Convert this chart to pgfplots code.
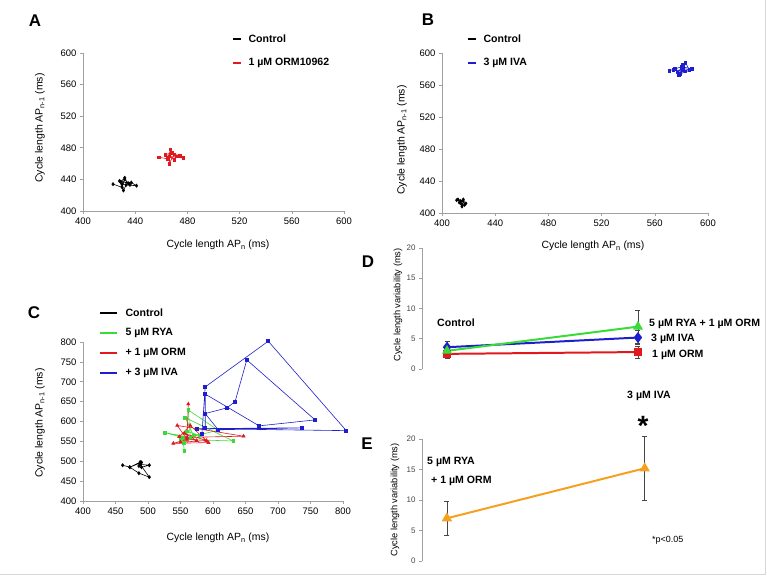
\documentclass[border=0pt]{standalone}
\usepackage{fontspec}
\setmainfont{Liberation Sans}
\usepackage{pgfplots}
\pgfplotsset{compat=1.18}

\definecolor{cred}{RGB}{225,25,30}
\definecolor{cblue}{RGB}{30,30,205}
\definecolor{cgreen}{RGB}{55,220,55}
\definecolor{corange}{RGB}{245,160,30}
\definecolor{axgrey}{RGB}{160,160,160}
\definecolor{errgrey}{RGB}{70,70,70}
\definecolor{framegrey}{RGB}{215,215,215}

\pgfplotsset{
  pc/.style={scale only axis, anchor=south west,
    axis lines*=left,
    axis line style={draw=axgrey, line width=0.6pt},
    tick style={draw=axgrey, line width=0.6pt},
    tick align=outside, major tick length=3bp,
    ticklabel style={font=\fontsize{9.5}{11}\selectfont},
    /pgf/number format/assume math mode=true,
    clip=false},
  pv/.style={scale only axis, anchor=south west,
    axis x line=none, axis y line*=left,
    axis line style={draw=axgrey, line width=0.6pt},
    tick style={draw=axgrey, line width=0.6pt},
    tick align=outside, major tick length=3bp,
    ymin=0, ymax=20, ytick={0,5,10,15,20},
    yticklabel style={font=\fontsize{8}{9}\selectfont, text=errgrey},
    /pgf/number format/assume math mode=true,
    clip=false},
  thin/.style={line width=0.6pt},
}

\newcommand{\lab}{\fontsize{10.5}{12}\selectfont}
\newcommand{\bl}{\fontsize{10.6}{12}\selectfont\bfseries}

\begin{document}
\begin{tikzpicture}[x=1bp,y=1bp]
\path[use as bounding box] (0,0) rectangle (767,576);
\draw[framegrey, line width=1pt] (765,576) -- (765,1) -- (0,1);

% ---------------- Panel A ----------------
\begin{axis}[pc, at={(83bp,365bp)}, width=261bp, height=158bp,
  xmin=400, xmax=600, ymin=400, ymax=600,
  xtick={400,440,...,600}, ytick={400,440,...,600}]
\addplot[black, thin, mark=diamond*, mark size=1.6pt] coordinates {
(423,434) (430,430) (432,442) (429,437) (437,436) (441,432) (433,433)
(431,426) (428,438) (435,435) (432,440) (430,434) (436,433)};
\addplot[cred, thin, mark=square*, mark size=1.3pt] coordinates {
(458,468) (465,466) (467,478) (466,460) (470,472) (474,470) (477,467)
(466,469) (470,465) (463,471) (468,474) (465,468) (472,469)};
\end{axis}

% ---------------- Panel B ----------------
\begin{axis}[pc, at={(442bp,363bp)}, width=266bp, height=160bp,
  xmin=400, xmax=600, ymin=400, ymax=600,
  xtick={400,440,...,600}, ytick={400,440,...,600}]
\addplot[black, thin, mark=diamond*, mark size=1.5pt] coordinates {
(411,416) (414,414) (416,417) (417,410) (415,408) (413,413) (416,415)
(412,417) (415,411) (418,412) (414,415)};
\addplot[cblue, thin, mark=square*, mark size=1.3pt] coordinates {
(571,578) (575,580) (579,574) (581,585) (583,588) (586,579) (580,581)
(577,576) (583,577) (574,579) (580,583) (588,580) (578,573) (581,580)};
\end{axis}

% ---------------- Panel C ----------------
\begin{axis}[pc, at={(83bp,75bp)}, width=260bp, height=159bp,
  xmin=400, xmax=800, ymin=400, ymax=800,
  xtick={400,450,...,800}, ytick={400,450,...,800}]
\addplot[black, thin, mark=diamond*, mark size=1.6pt] coordinates {
(461,490) (472,485) (488,498) (490,485) (502,490) (488,492) (502,460)
(486,470) (472,485) (490,497) (486,488)};
\addplot[cgreen, thin, mark=square*, mark size=1.3pt] coordinates {
(556,526) (553,560) (526,572) (565,560) (562,629) (608,578) (550,555)
(631,551) (557,610) (570,565) (555,545) (560,575) (580,565)};
\addplot[cred, thin, mark=triangle*, mark size=1.8pt] coordinates {
(562,644) (560,560) (647,563) (545,590) (560,555) (539,545) (593,547)
(565,590) (548,562) (575,552) (556,570) (590,552) (550,548)};
\addplot[cblue, thin, mark=square*, mark size=1.5pt] coordinates {
(583,570) (588,687) (685,802) (805,577) (575,582) (737,584) (608,579)
(588,620) (621,634) (634,650) (652,755) (757,604) (671,589) (588,669)
(588,585)};
\end{axis}

% ---------------- Panel D ----------------
\begin{axis}[pv, at={(422bp,207bp)}, width=278bp, height=121bp,
  xmin=0.869, xmax=2.325]
\addplot[cred, line width=2pt, mark=square*, mark size=3.3pt,
  error bars/.cd, y dir=both, y explicit,
  error bar style={errgrey, line width=0.6pt},
  error mark options={rotate=90, errgrey, mark size=2.5pt, line width=0.6pt}]
  coordinates {(1,2.5) +- (0,0.7) (2,2.8) +- (0,1.0)};
\addplot[cblue, line width=2pt, mark=diamond*, mark size=4pt,
  error bars/.cd, y dir=both, y explicit,
  error bar style={errgrey, line width=0.6pt},
  error mark options={rotate=90, errgrey, mark size=2.5pt, line width=0.6pt}]
  coordinates {(1,3.6) +- (0,0.9) (2,5.2) +- (0,1.2)};
\addplot[cgreen, line width=2pt, mark=triangle*, mark size=3.8pt,
  error bars/.cd, y dir=both, y explicit,
  error bar style={errgrey, line width=0.6pt},
  error mark options={rotate=90, errgrey, mark size=2.5pt, line width=0.6pt}]
  coordinates {(1,3.0) +- (0,0.8) (2,7.0) +- (0,2.7)};
\end{axis}

% ---------------- Panel E ----------------
\begin{axis}[pv, at={(422bp,15bp)}, width=282bp, height=122bp,
  xmin=0.874, xmax=2.3]
\addplot[corange, line width=2pt, mark=triangle*, mark size=4pt,
  error bars/.cd, y dir=both, y explicit,
  error bar style={errgrey, line width=0.6pt},
  error mark options={rotate=90, errgrey, mark size=2.5pt, line width=0.6pt}]
  coordinates {(1,7.0) +- (0,2.75) (2,15.2) +- (0,5.2)};
\end{axis}

% ---------------- Panel letters ----------------
\node[font=\fontsize{17}{18}\selectfont\bfseries] at (35,555) {A};
\node[font=\fontsize{17}{18}\selectfont\bfseries] at (428,556) {B};
\node[font=\fontsize{17}{18}\selectfont\bfseries] at (34,263) {C};
\node[font=\fontsize{17}{18}\selectfont\bfseries] at (368,314) {D};
\node[font=\fontsize{17}{18}\selectfont\bfseries] at (367,132) {E};

% ---------------- Axis labels ----------------
\node[font=\lab, rotate=90] at (40,448) {Cycle length AP\textsubscript{n-1} (ms)};
\node[font=\lab, rotate=90] at (402,436) {Cycle length AP\textsubscript{n-1} (ms)};
\node[font=\lab, rotate=90] at (40,153) {Cycle length AP\textsubscript{n-1} (ms)};
\node[font=\lab] at (218,331) {Cycle length AP\textsubscript{n} (ms)};
\node[font=\lab] at (593,330) {Cycle length AP\textsubscript{n} (ms)};
\node[font=\lab] at (218,38) {Cycle length AP\textsubscript{n} (ms)};
\node[font=\fontsize{9.3}{10}\selectfont, rotate=90] at (398,271) {Cycle length variability (ms)};
\node[font=\fontsize{9.3}{10}\selectfont, rotate=90] at (395,76) {Cycle length variability (ms)};

% ---------------- Legends ----------------
\draw[black, line width=1.5pt] (233,537) -- (241,537);
\node[font=\bl, anchor=west] at (245,537) {Control};
\draw[cred, line width=1.5pt] (233,513) -- (241,513);
\node[font=\bl, anchor=west] at (245,513) {1 µM ORM10962};

\draw[black, line width=1.5pt] (468,537) -- (476,537);
\node[font=\bl, anchor=west] at (480,537) {Control};
\draw[cblue, line width=1.5pt] (468,513) -- (476,513);
\node[font=\bl, anchor=west] at (480,513) {3 µM IVA};

\draw[black, line width=1.2pt] (100,263) -- (117,263);
\node[font=\bl, anchor=west] at (122,263) {Control};
\draw[cgreen, line width=1.2pt] (100,243) -- (117,243);
\node[font=\bl, anchor=west] at (122,243) {5 µM RYA};
\draw[cred, line width=1.2pt] (100,223) -- (117,223);
\node[font=\bl, anchor=west] at (122,223) {+ 1 µM ORM};
\draw[cblue, line width=1.2pt] (100,203) -- (117,203);
\node[font=\bl, anchor=west] at (122,203) {+ 3 µM IVA};

% ---------------- D annotations ----------------
\node[font=\bl, anchor=west, inner sep=0pt] at (437,253) {Control};
\node[font=\bl, anchor=west, inner sep=0pt] at (649,252) {5 µM RYA + 1 µM ORM};
\node[font=\bl, anchor=west, inner sep=0pt] at (651,237) {3 µM IVA};
\node[font=\bl, anchor=west, inner sep=0pt] at (652,221) {1 µM ORM};

% ---------------- E annotations ----------------
\node[font=\bl, anchor=west, inner sep=0pt] at (627,180) {3 µM IVA};
\node[font=\fontsize{28}{30}\selectfont\bfseries, inner sep=0pt] at (643,150) {*};
\node[font=\bl, anchor=west, inner sep=0pt] at (427,114) {5 µM RYA};
\node[font=\bl, anchor=west, inner sep=0pt] at (431,95) {+ 1 µM ORM};
\node[font=\fontsize{9}{10}\selectfont, anchor=west, inner sep=0pt] at (652,36) {*p<0.05};
\end{tikzpicture}
\end{document}
